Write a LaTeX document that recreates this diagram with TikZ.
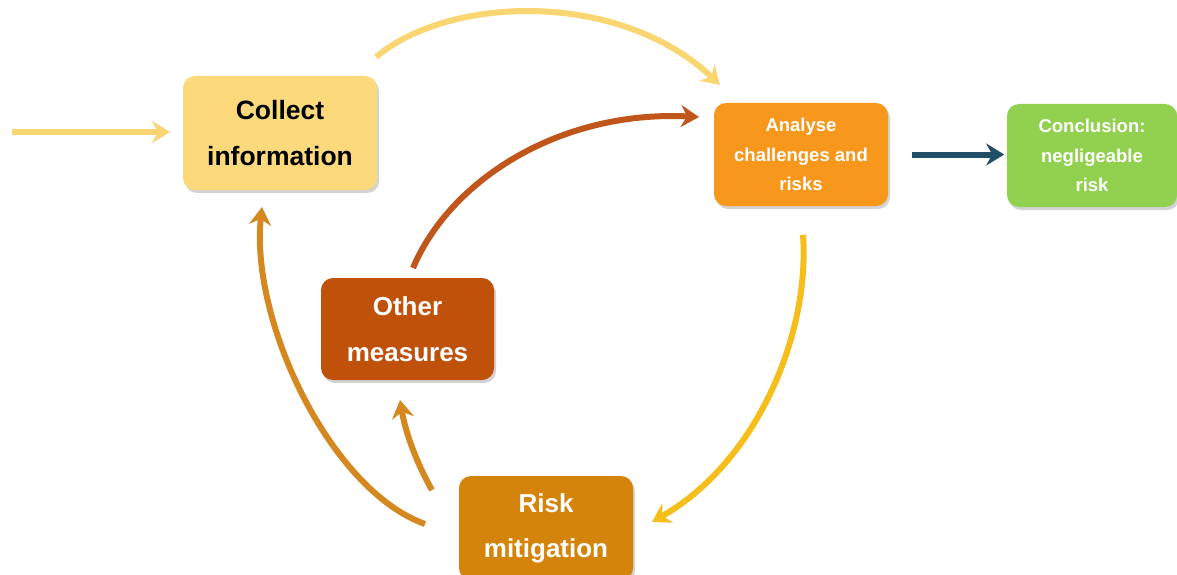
\documentclass[tikz,border=0pt]{standalone}
\usepackage{fontspec}
\setmainfont{Liberation Sans}
\usetikzlibrary{arrows.meta,shadows}
\definecolor{cyellow}{HTML}{FCD97A}
\definecolor{corange}{HTML}{F7981D}
\definecolor{cgreen}{HTML}{92D050}
\definecolor{cbrown}{HTML}{C0510A}
\definecolor{cmit}{HTML}{D4840A}
\definecolor{aylight}{HTML}{F9D672}
\definecolor{agold}{HTML}{F5BE1A}
\definecolor{amit}{HTML}{D4881F}
\definecolor{abrown}{HTML}{C0561A}
\definecolor{ablue}{HTML}{1F4E66}
\tikzset{
  box/.style={rounded corners=12pt, inner sep=0pt, align=center, font=\bfseries,
    drop shadow={shadow xshift=2pt, shadow yshift=-3pt, opacity=0.35, fill=gray}},
  conn/.style={line width=6pt, -{Stealth[width=22pt,length=18pt,inset=6pt]}},
}
\begin{document}
\begin{tikzpicture}[x=1pt,y=-1pt]
\useasboundingbox (0,0) rectangle (1177,575);
\node[box, fill=cyellow, minimum width=194pt, minimum height=114pt, font=\bfseries\fontsize{26.5}{46}\selectfont] (collect) at (280,133) {Collect\\information};
\node[box, fill=corange, text=white, minimum width=174pt, minimum height=103pt, font=\bfseries\fontsize{18.5}{29.5}\selectfont] (analyse) at (801,154.5) {Analyse\\challenges and\\risks};
\node[box, fill=cgreen, text=white, minimum width=170pt, minimum height=103pt, font=\bfseries\fontsize{18.5}{29.5}\selectfont] (concl) at (1092,155.5) {Conclusion:\\negligeable\\risk};
\node[box, fill=cbrown, text=white, minimum width=173pt, minimum height=102pt, font=\bfseries\fontsize{26}{46}\selectfont] (other) at (407.5,329) {Other\\measures};
\node[box, fill=cmit, text=white, minimum width=174pt, minimum height=104pt, font=\bfseries\fontsize{26}{45}\selectfont] (mit) at (546,528) {Risk\\mitigation};

\coordinate (in) at (12,132);
\coordinate (inend) at (170,132);
\draw[conn, aylight] (in) -- (inend);
\draw[conn, aylight] (376,57) .. controls (450,-5) and (620,-10) .. (720,85);
\draw[conn, ablue] (analyse.east) ++(24,0) -- ++(92,0);
\draw[conn, agold] (803,235) .. controls (810,330) and (760,460) .. (652,522);
\draw[conn, amit] (425,524) .. controls (330,490) and (250,320) .. (262,207);
\draw[conn, amit] (432,490) .. controls (415,460) and (405,430) .. (400,400);
\draw[conn, abrown] (413,268) .. controls (450,180) and (560,110) .. (699,117);
\end{tikzpicture}
\end{document}
